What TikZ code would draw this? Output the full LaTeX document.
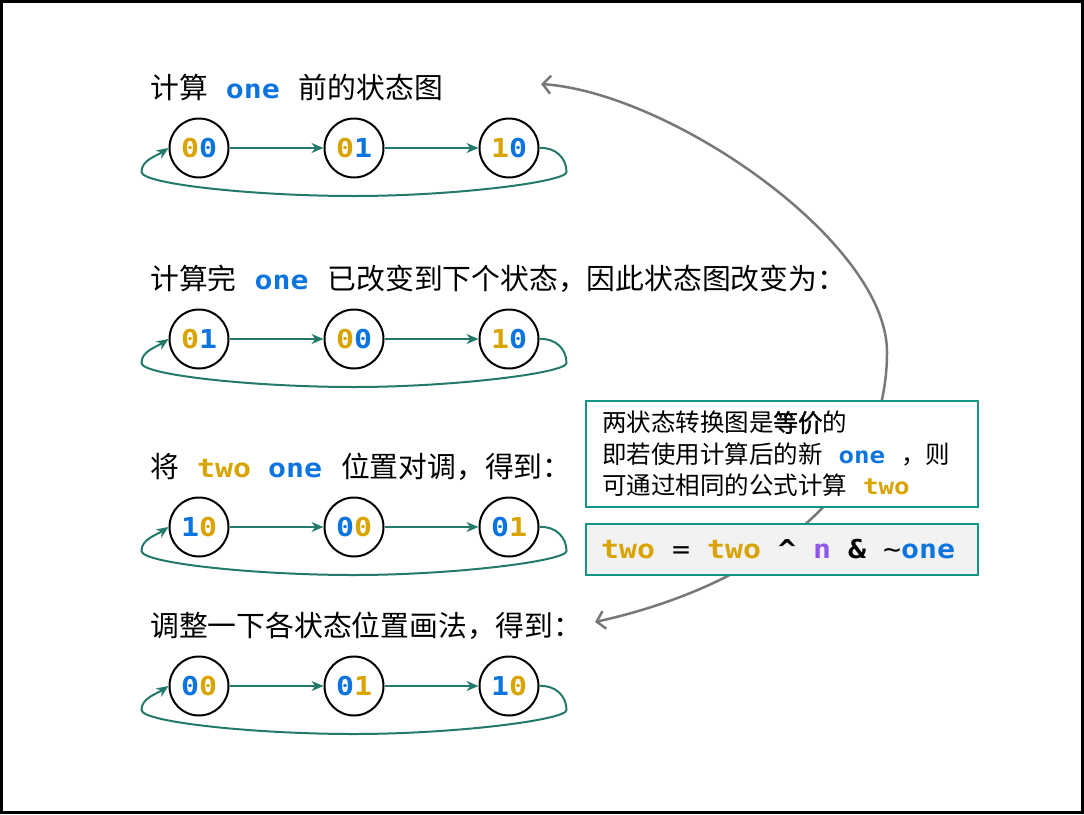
\documentclass[tikz,border=0pt]{standalone}
\usepackage{fontspec}
\usetikzlibrary{arrows.meta,calc}
\setmainfont{Noto Sans CJK SC}
\newfontfamily\cjkbold[FakeBold=1.6]{Noto Sans CJK SC}
\newfontfamily\code[FakeStretch=1.15]{DejaVu Sans Mono}
\definecolor{cblue}{RGB}{11,116,222}
\definecolor{cgold}{RGB}{217,163,0}
\definecolor{cteal}{RGB}{35,122,106}
\definecolor{cbox}{RGB}{20,150,135}
\definecolor{cgrey}{RGB}{120,120,120}
\definecolor{cpurp}{RGB}{145,85,235}
\definecolor{cfill}{RGB}{242,242,242}
\newcommand\Bl[1]{{\color{cblue}#1}}
\newcommand\Gd[1]{{\color{cgold}#1}}
\newcommand\cwd[1]{\hspace{18pt}{\code\bfseries\fontsize{26}{26}\selectfont #1}\hspace{19pt}}
\newcommand\msp{\hspace{17pt}}
\tikzset{
  state/.style={circle,draw=black,line width=2pt,minimum size=59pt,inner sep=0pt,
    font=\code\bfseries\fontsize{26}{26}\selectfont},
  edge/.style={draw=cteal,line width=2pt,-{Stealth[length=12pt,width=10pt]}},
  title/.style={anchor=west,inner sep=0pt,font=\fontsize{28.8}{28.8}\selectfont},
  greyarrow/.style={draw=cgrey,line width=2.5pt,{Straight Barb[length=8pt,width=18pt]}-{Straight Barb[length=8pt,width=18pt]}},
  notebox/.style={draw=cbox,line width=2pt,fill=white,anchor=north west,minimum width=392pt,
    inner xsep=16pt,inner ysep=0pt,text width=360pt,align=left},
}
\newcommand\staterow[5]{% y, prefix, lab1, lab2, lab3
  \node[state] (#2a) at (199,#1) {#3};
  \node[state] (#2b) at (354,#1) {#4};
  \node[state] (#2c) at (509,#1) {#5};
  \draw[edge] (#2a) -- (#2b);
  \draw[edge] (#2b) -- (#2c);
  \coordinate (#2R) at ($(#2c.east)+(27,24)$);
  \coordinate (#2M) at ($(#2b.center)+(0,48)$);
  \coordinate (#2L) at ($(#2a.west)+(-27,24)$);
  \draw[edge] (#2c.east) .. controls +(16,-1) and +(0,-14) .. (#2R)
     .. controls +(0,10) and +(100,0) .. (#2M)
     .. controls +(-100,0) and +(0,12) .. (#2L)
     .. controls +(0,-12) and +(-12,8) .. (#2a.west);
}
\begin{document}
\begin{tikzpicture}[x=1pt,y=-1pt]
\useasboundingbox (0,0) rectangle (1084,814);
\fill[white] (0,0) rectangle (1084,814);
\draw[line width=3pt] (1.5,1.5) rectangle (1082.5,812.5);

% titles
\node[title] (t1) at (150,87) {计算\cwd{\Bl{one}}前的状态图};
\node[title] (t2) at (150,279) {计算完\cwd{\Bl{one}}已改变到下个状态，因此状态图改变为：};
\node[title] (t3) at (150,467) {将\hspace{18pt}{\code\bfseries\fontsize{26}{26}\selectfont\Gd{two}\hspace{17pt}\Bl{one}}\hspace{19pt}位置对调，得到：};
\node[title] (t4) at (150,626) {调整一下各状态位置画法，得到：};

% state rows
\staterow{148}{r1}{\Gd{0}\Bl{0}}{\Gd{0}\Bl{1}}{\Gd{1}\Bl{0}}
\staterow{339}{r2}{\Gd{0}\Bl{1}}{\Gd{0}\Bl{0}}{\Gd{1}\Bl{0}}
\staterow{527}{r3}{\Bl{1}\Gd{0}}{\Bl{0}\Gd{0}}{\Bl{0}\Gd{1}}
\staterow{686}{r4}{\Bl{0}\Gd{0}}{\Bl{0}\Gd{1}}{\Bl{1}\Gd{0}}

% grey curve
\coordinate (gs) at (595,622);
\coordinate (gm) at (887,352);
\coordinate (ge) at (541,84);
\draw[greyarrow] (gs) .. controls +(150,-33) and +(0,150) .. (gm)
   .. controls +(0,-110) and +(130,9) .. (ge);

% boxes
\node[notebox,minimum height=106pt,font=\fontsize{24.5}{31.5}\selectfont] (note) at (585,400)
  {两状态转换图是{\cjkbold 等价}的\\
   即若使用计算后的新\hspace{16pt}{\code\bfseries\fontsize{22.5}{22.5}\selectfont\Bl{one}}\hspace{16pt}，则\\
   可通过相同的公式计算\hspace{16pt}{\code\bfseries\fontsize{22.5}{22.5}\selectfont\Gd{two}}};
\node[notebox,fill=cfill,minimum height=51pt,inner xsep=15pt,text width=362pt,font=\code\fontsize{26}{26}\selectfont] (formula) at (585,523)
  {\mbox{{\bfseries\Gd{two}}\msp=\msp{\bfseries\Gd{two}\msp\textasciicircum\msp{\color{cpurp}n}\msp\&}\msp\textasciitilde{\bfseries\Bl{one}}}};
\end{tikzpicture}
\end{document}
